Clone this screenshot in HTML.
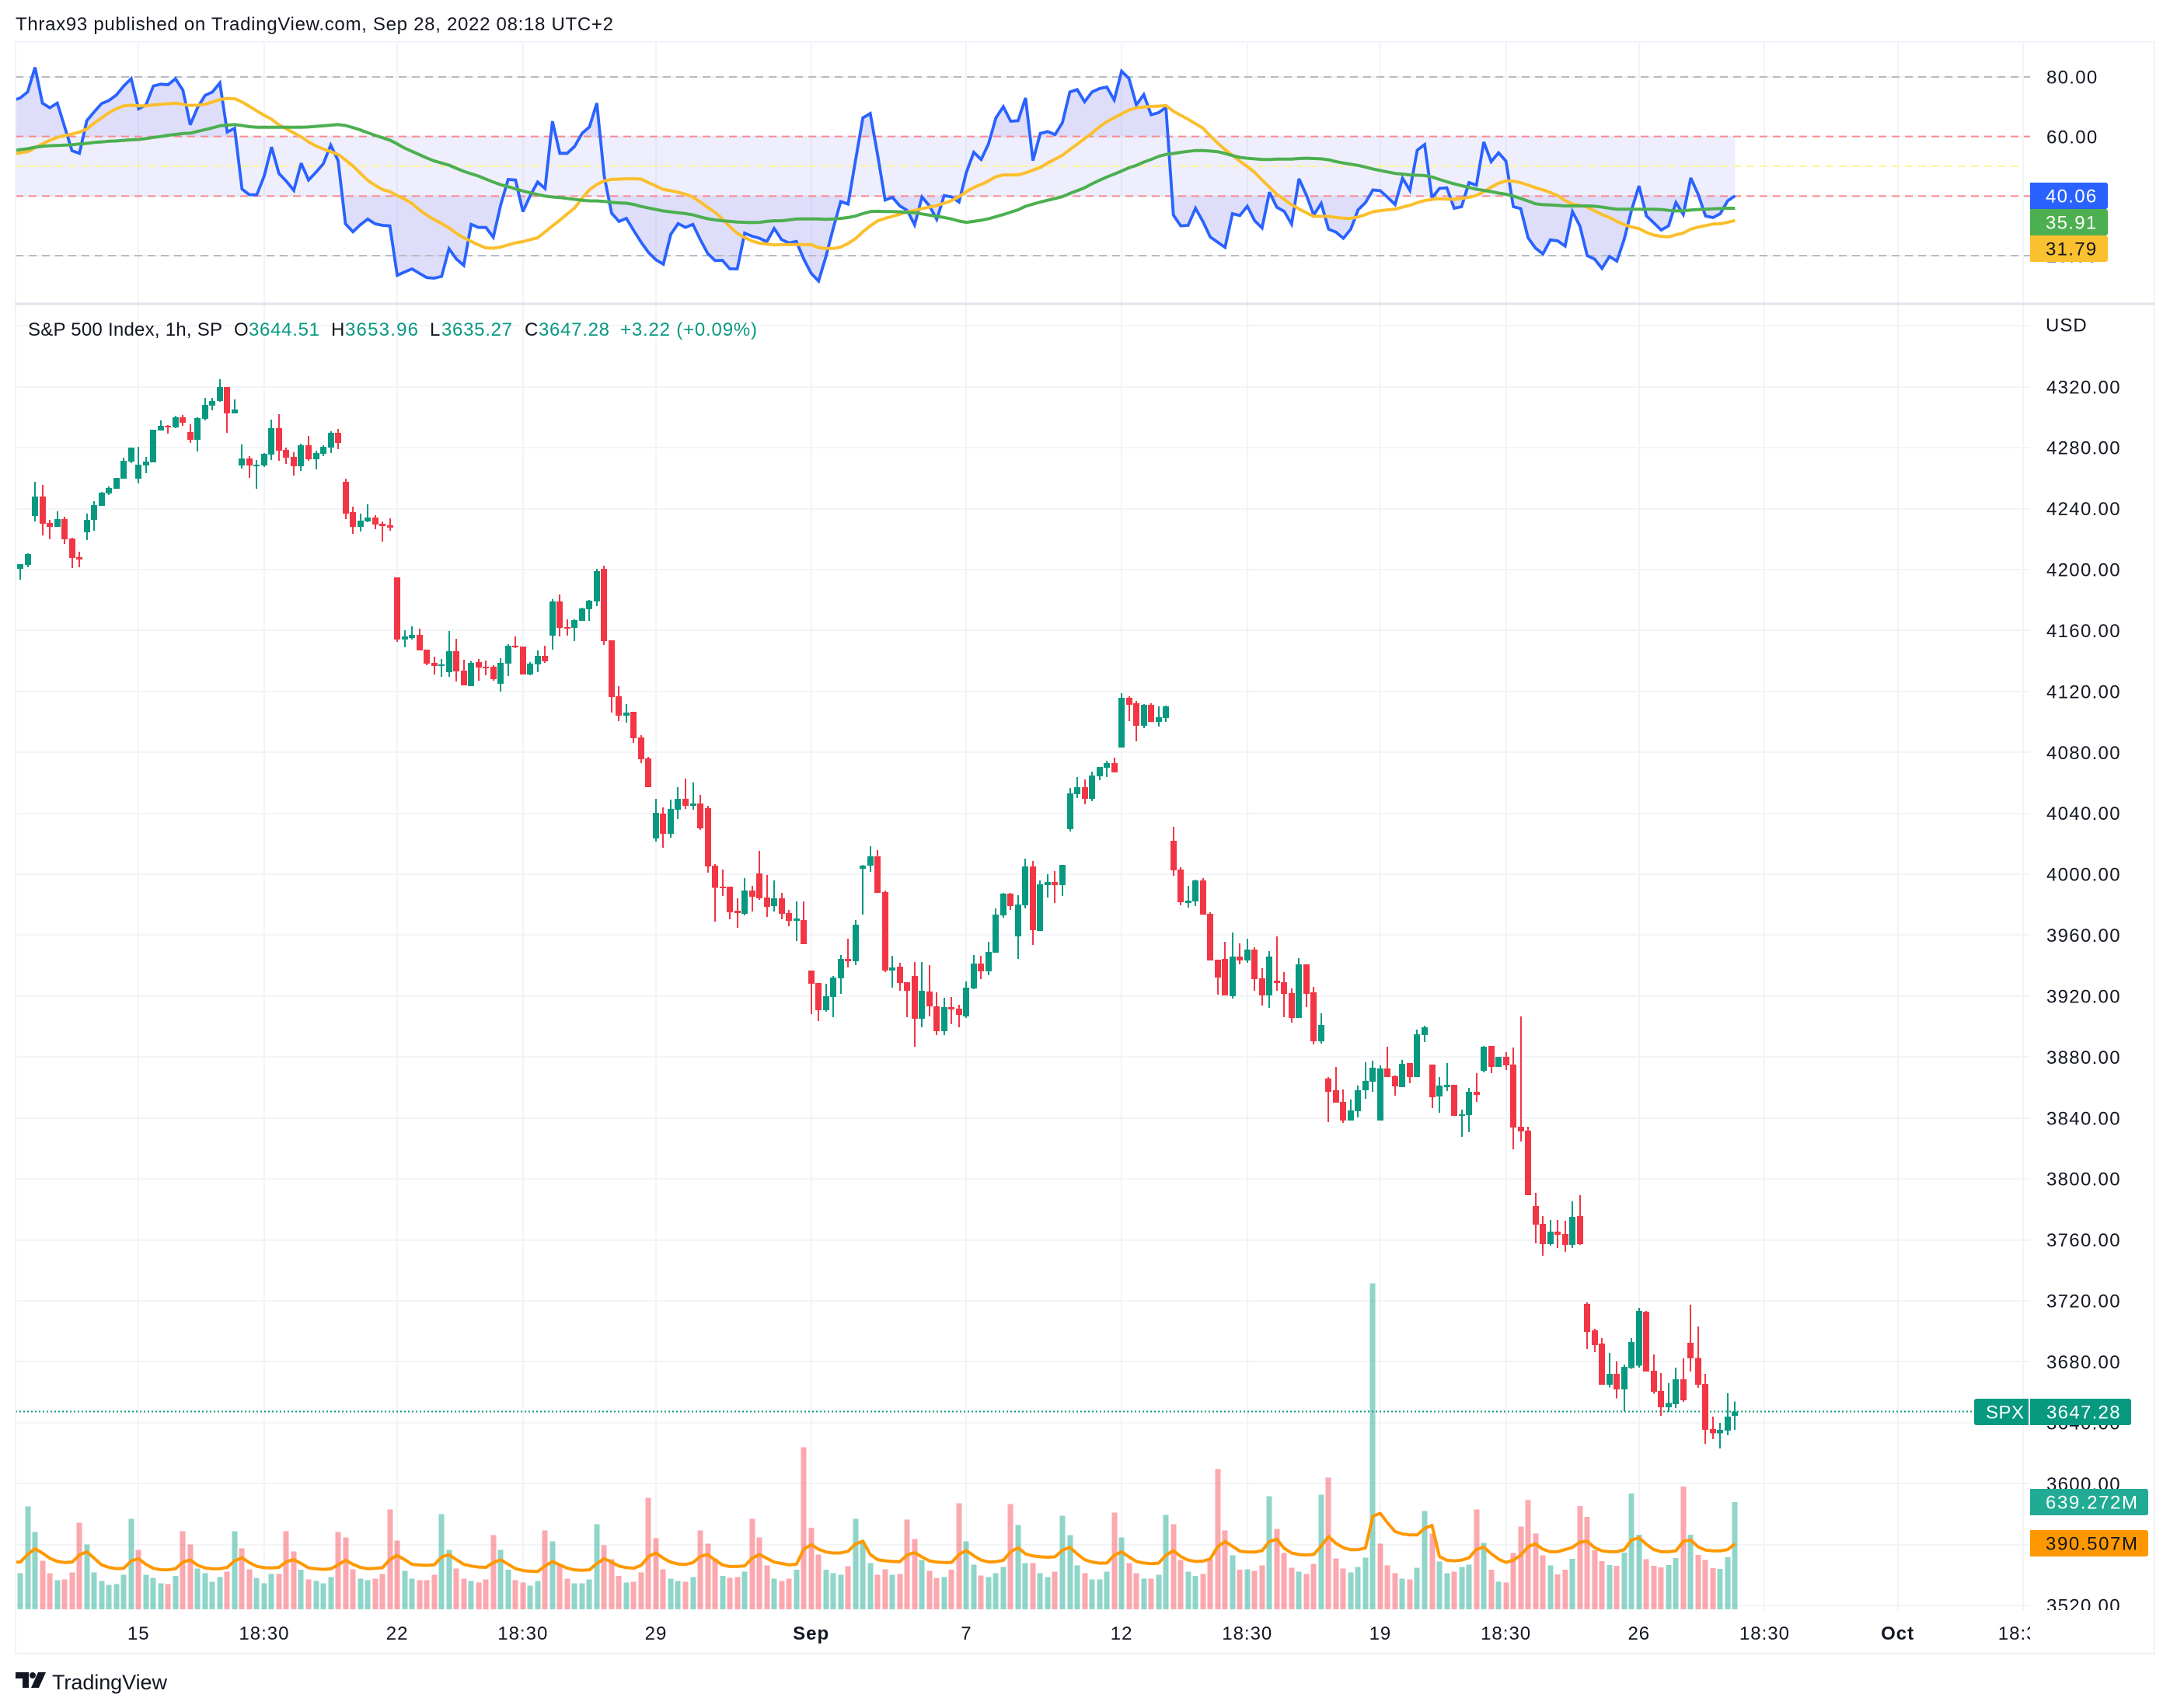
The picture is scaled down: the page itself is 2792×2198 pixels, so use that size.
<!DOCTYPE html>
<html lang="en">
<head>
<meta charset="utf-8">
<title>S&amp;P 500 Index chart</title>
<style>
html,body{margin:0;padding:0;background:#fff;}
svg{display:block;}
text{font-family:"Liberation Sans",sans-serif;fill:#131722;font-size:24px;}
</style>
</head>
<body>
<svg id="chart" xmlns="http://www.w3.org/2000/svg" width="2792" height="2198" viewBox="0 0 2792 2198">
  <defs>
    <clipPath id="rsi-clip"><rect x="20" y="55" width="2592" height="335"/></clipPath>
    <clipPath id="main-clip"><rect x="20" y="392" width="2592" height="1680"/></clipPath>
    <clipPath id="axis-clip"><rect x="2612" y="55" width="160" height="2017"/></clipPath>
    <clipPath id="time-clip"><rect x="20" y="2072" width="2592" height="55"/></clipPath>
    <clipPath id="above-clip"><rect id="above-rect" x="20" y="55" width="2592" height="120"/></clipPath>
    <clipPath id="below-clip"><rect id="below-rect" x="20" y="252" width="2592" height="138"/></clipPath>
  </defs>
  <rect x="0" y="0" width="2792" height="2198" fill="#ffffff"/>
  <text x="20" y="39" textLength="769" lengthAdjust="spacing">Thrax93 published on TradingView.com, Sep 28, 2022 08:18 UTC+2</text>
  <g id="grid"></g>
  <g id="rsi-pane" clip-path="url(#rsi-clip)"></g>
  <g id="main-pane" clip-path="url(#main-clip)"></g>
  <g id="price-axis" clip-path="url(#axis-clip)"></g>
  <g id="time-axis" clip-path="url(#time-clip)"></g>

  <rect x="19" y="53" width="2754" height="2" fill="#f0f3fa"/>
  <rect x="19" y="53" width="2" height="2076" fill="#f0f3fa"/>
  <rect x="2771" y="53" width="2" height="2076" fill="#f0f3fa"/>
  <rect x="19" y="2127" width="2754" height="2" fill="#f0f3fa"/>
  <rect x="19" y="389.5" width="2754" height="3" fill="#e0e3eb"/>

  <text x="2632" y="426.5" letter-spacing="1">USD</text>

  <g>
    <text x="36" y="432" textLength="250" lengthAdjust="spacing">S&amp;P 500 Index, 1h, SP</text>
    <text x="301" y="432">O</text>
    <text x="320" y="432" textLength="91" style="fill:#089981">3644.51</text>
    <text x="426" y="432">H</text>
    <text x="444" y="432" textLength="94" style="fill:#089981">3653.96</text>
    <text x="553" y="432">L</text>
    <text x="568" y="432" textLength="91" style="fill:#089981">3635.27</text>
    <text x="675" y="432">C</text>
    <text x="693" y="432" textLength="91" style="fill:#089981">3647.28</text>
    <text x="798" y="432" textLength="176" style="fill:#089981">+3.22 (+0.09%)</text>
  </g>

  <g>
    <path d="M2612 235H2709a3 3 0 0 1 3 3V266a3 3 0 0 1 -3 3H2612Z" fill="#2962ff"/>
    <text x="2632" y="260.5" letter-spacing="1.3" style="fill:#ffffff">40.06</text>
    <path d="M2612 269H2709a3 3 0 0 1 3 3V300a3 3 0 0 1 -3 3H2612Z" fill="#4caf50"/>
    <text x="2632" y="294.5" letter-spacing="1.3" style="fill:#ffffff">35.91</text>
    <path d="M2612 303H2709a3 3 0 0 1 3 3V334a3 3 0 0 1 -3 3H2612Z" fill="#fbc02d"/>
    <text x="2632" y="328.5" letter-spacing="1.3">31.79</text>
  </g>

  <g>
    <path d="M2610 1800H2543a3 3 0 0 0 -3 3V1831a3 3 0 0 0 3 3H2610Z" fill="#089981"/>
    <text x="2555" y="1825.5" letter-spacing="0.5" style="fill:#ffffff">SPX</text>
    <path d="M2612 1800H2739a3 3 0 0 1 3 3V1831a3 3 0 0 1 -3 3H2612Z" fill="#089981"/>
    <text x="2633" y="1825.5" letter-spacing="1.3" style="fill:#ffffff">3647.28</text>
  </g>
  <g>
    <path d="M2612 1916H2761a3 3 0 0 1 3 3V1947a3 3 0 0 1 -3 3H2612Z" fill="#22ab94"/>
    <text x="2632" y="1941.5" textLength="118" style="fill:#ffffff">639.272M</text>
    <path d="M2612 1969H2761a3 3 0 0 1 3 3V2000a3 3 0 0 1 -3 3H2612Z" fill="#ff9800"/>
    <text x="2632" y="1994.5" textLength="118">390.507M</text>
  </g>

  <g>
    <path d="M20 2152H37V2172H29V2160H20Z" fill="#131722"/>
    <circle cx="42" cy="2156" r="4" fill="#131722"/>
    <path d="M49 2152H59L50 2172H40Z" fill="#131722"/>
    <text x="67" y="2174" textLength="148" lengthAdjust="spacing" style="font-size:27px">TradingView</text>
  </g>
</svg>

<script>
const opens = [
4200.5,4203,4235.2,4247.9,4230.6,4228,4233.1,4220.4,4208.1,4224.4,
4232.6,4241.8,4250,4253,4259.6,4270.9,4259.6,4268.3,4270.3,4291.3,
4294.3,4293.3,4299.9,4290.2,4285.1,4298.9,4307.6,4310.6,4319.8,4302.5,
4268.3,4272.9,4268.3,4268.3,4275.4,4292.8,4278.5,4273.9,4267.8,4281.6,
4272.4,4276,4280,4289.7,4257.6,4237.7,4228,4231.6,4234.1,4230,
4229,4194.9,4154.1,4155.1,4157.1,4147.4,4138.8,4136.7,4132.6,4146.4,
4133.6,4123.5,4139.3,4136.2,4136.2,4125,4138.2,4150,4149.5,4131.1,
4137.7,4143.3,4156.6,4179,4162.2,4161.7,4166.3,4174,4179,4200.5,
4153.5,4116.8,4104.1,4106.6,4089.8,4076,4023.5,4039.8,4026.5,4042.4,
4049.5,4044.9,4046.4,4043.4,4005.6,3991.9,3991.9,3976,3974,3989.3,
4000.5,3984.7,3979.1,3984.2,3974.5,3969.4,3970,3936.8,3928.6,3910.8,
3919.4,3931.7,3944.4,3942.9,4003.6,4005.6,4011.8,3988.3,3936.8,3939.3,
3929.1,3933.2,3905.2,3923,3913.3,3897,3912.8,3911.8,3906.7,3925,
3941.4,3936.3,3948.5,3973,3987.3,3959.2,3979.6,4005.1,3962.8,3992.9,
3994.9,3992.9,4029.6,4052.6,4057.2,4049.5,4064.3,4069.9,4073,4083.2,
4115.8,4112.2,4097.5,4111.2,4100,4102.6,4022,4003.1,3981.2,3982.2,
3996,3974,3943.9,3944.4,3920,3946,3943.4,3950.6,3931.7,3920.5,
3930.2,3929.1,3922,3905.7,3940.9,3922.5,3890.4,3865.9,3858.2,3850.6,
3838.3,3844.5,3858.2,3863.9,3838.3,3872.5,3867.4,3860.3,3876.1,3866.9,
3894.5,3875.1,3854.2,3860.3,3861.8,3841.4,3841.9,3857.2,3871,3887.3,
3873.5,3880.2,3875.1,3834.3,3831.7,3782.2,3770.4,3757.2,3765.3,3763.8,
3756.7,3775.6,3718,3700.6,3691.9,3664.8,3672,3661.8,3675.9,3677.5,
3712.8,3674,3660.7,3650,3652.1,3668.4,3692.4,3682.6,3665.3,3635.7,
3632.9,3634.7,3644.51];
const highs = [
4203.5,4210.7,4257.6,4255.6,4232.6,4238.2,4234.7,4220.9,4211.7,4236.7,
4244.8,4251,4254.5,4260.1,4273.4,4280,4280.5,4273.9,4291.8,4297.9,
4294.8,4300.9,4301.5,4295.3,4299.9,4312.7,4312.7,4324.9,4319.8,4311.7,
4282.1,4274.4,4271.9,4276.5,4298.4,4302,4280,4277,4282.6,4287.7,
4278,4281.6,4290.7,4292.3,4259.6,4241.3,4236.7,4242.8,4235.7,4231.6,
4233.6,4194.9,4160.2,4162.7,4161.2,4147.4,4142.8,4141.3,4159.7,4154.6,
4140.8,4139.8,4141.3,4140.3,4137.2,4141.8,4151,4156.1,4149.5,4139.3,
4146.9,4150,4180.6,4183.6,4167.3,4167.3,4175,4180.1,4200.5,4202.5,
4153.5,4123.5,4111.7,4106.6,4091.3,4077,4049.5,4043.9,4049,4057.1,
4062.8,4060.2,4052,4044.9,4006.6,4003,3991.9,3984.2,3997.5,3992.4,
4015.3,3999.5,3995.9,3987.8,3976.5,3982.2,3982.2,3936.8,3928.6,3928.1,
3933.2,3947,3957.7,3969.9,4006.1,4018.4,4015.8,3989.3,3946.5,3941.9,
3929.1,3942.4,3942.4,3940.3,3922.5,3918.9,3919.4,3914.3,3929.6,3947,
3946.5,3955.6,3977.6,3987.8,3987.8,3986.3,4010.2,4008.7,3996,4000,
4002,4006.1,4056.6,4063.8,4062.3,4067.4,4070.4,4074.5,4076.5,4118.9,
4116.8,4113.8,4111.7,4112.2,4110.2,4110.7,4031.1,4004.6,3992.4,3996.5,
3997.5,3975,3943.9,3955.7,3961.8,3954.6,3957.7,3952.1,3938.3,3949.5,
3959.2,3935.8,3925.1,3945,3940.9,3926.1,3908.7,3866.9,3873.5,3858.7,
3852.1,3861.3,3876.6,3877.6,3874.6,3886.8,3867.9,3878.1,3876.1,3898,
3900.6,3875.1,3866.9,3876.1,3861.8,3845.5,3859.8,3869.5,3887.3,3887.3,
3880.2,3883.2,3886.3,3906.7,3834.3,3790.8,3775.5,3773,3773,3772.5,
3785.2,3789.3,3719,3701.5,3695.5,3685.8,3680.1,3678.2,3695.5,3715.4,
3713.3,3684.8,3672.5,3665.9,3676,3682.3,3717.4,3703.1,3671.9,3644,
3639.8,3659.3,3653.96];
const lows = [
4193.3,4201.5,4231.6,4222.4,4219.9,4228,4216.8,4201,4201.5,4219.3,
4225.5,4241.8,4248.9,4253,4259.6,4269.8,4256.6,4263.2,4270.3,4291.3,
4289.2,4292.8,4294.3,4283.1,4277.5,4297.9,4304.5,4310.1,4289.7,4302.5,
4266.3,4260.1,4253,4267.3,4271.9,4271.4,4269.3,4261.7,4264.7,4271.4,
4265.7,4274.4,4276.5,4279,4233.1,4223.4,4225,4231.1,4226.5,4218.3,
4225.5,4152.5,4149,4154.1,4146.9,4137.2,4131.1,4129.6,4129.6,4126.5,
4124,4123.5,4127,4130.6,4127,4119.9,4130.1,4148.4,4131.1,4130.6,
4132.6,4138.8,4147.4,4156.1,4156.6,4153,4166.3,4166.3,4176,4150.5,
4106.1,4100.5,4099.5,4086.2,4073,4057.1,4021.4,4017.4,4024,4036.2,
4042.9,4042.4,4029,4001,3968.9,3985.7,3970.4,3964.8,3973,3975.5,
3983.2,3971.9,3975.5,3970.4,3965.8,3956.2,3954.1,3908.2,3903.6,3909.7,
3906.2,3921.5,3938.8,3940.3,3973.5,4001.6,3987.8,3935.8,3925.6,3923.5,
3906.2,3886.8,3899.5,3906.7,3894.4,3894.4,3901.6,3899.5,3905.7,3924.5,
3931.2,3933.7,3948.5,3971.5,3976.6,3944.4,3977.6,3953.6,3962.8,3984.7,
3981.2,3985.7,4028.1,4050,4045.9,4048,4061.7,4063.8,4066.8,4083.2,
4100.5,4087.3,4095.9,4100,4097,4100,3999,3979.6,3978.1,3979.1,
3973.5,3943.4,3921,3920.5,3918.4,3940.9,3941.9,3923.5,3913.8,3912.3,
3923.5,3906.2,3902.6,3905.7,3912.8,3888.3,3888.8,3837.3,3850.1,3836.8,
3838.3,3840.4,3852.6,3857.2,3838.3,3866.9,3854.7,3860.3,3862.9,3866.9,
3889.9,3846.5,3843.4,3857.7,3841.4,3827.6,3830.7,3850.6,3870,3869.5,
3873.5,3871.5,3819.5,3824.6,3789.4,3757.7,3749.5,3756.2,3754.6,3752.1,
3754.6,3756.7,3688.3,3686.2,3664.8,3663,3655.9,3647.5,3675.3,3676,
3673.5,3658.9,3644.5,3647,3649.5,3653.6,3673.5,3662.8,3626.1,3629.2,
3623.1,3631.6,3635.27];
const closes = [
4203.5,4210.2,4247.9,4230,4228,4233.1,4219.9,4207.6,4206.6,4232.6,
4242.3,4250.4,4253.5,4260.1,4271.4,4280,4268.8,4270.9,4291.8,4294.3,
4293.3,4299.9,4296.4,4285.1,4299.4,4308.1,4310.6,4319.8,4302.5,4305,
4272.9,4268.3,4268.8,4275.9,4292.8,4278,4273.4,4267.8,4281.6,4272.4,
4276.5,4280.5,4289.7,4283.1,4236.7,4228,4232.1,4234.1,4229.5,4228.5,
4227.5,4154.1,4156.1,4157.1,4146.9,4138.2,4136.7,4137.7,4146.4,4133.1,
4124,4138.8,4135.7,4135.6,4128,4138.8,4150,4149,4131.1,4138.2,
4143.3,4139.8,4179,4161.7,4161.6,4166.8,4174.5,4179.6,4199,4153,
4116.3,4104.1,4106.1,4089.3,4075.5,4057.1,4040.3,4026.5,4042.9,4049.5,
4044.9,4046.4,4030.1,4005.1,3991.2,3991.3,3975,3974.5,3989.3,3985.2,
3984.2,3978.6,3984.2,3974,3969.4,3971,3954.1,3928.1,3910.8,3919.9,
3932.2,3944.4,3942.9,3966.9,4005.6,4011.8,3987.8,3936.8,3938.8,3928.6,
3923.5,3905.2,3923.5,3913.3,3897,3912.8,3911.3,3907.7,3925.5,3941.4,
3936.3,3949,3973.5,3987.3,3979.1,3980.1,4005.1,3963.3,3993.4,3994.9,
3992.9,4006.1,4053.1,4057.2,4049.5,4064.8,4070.4,4073,4066.8,4115.8,
4111.2,4097.5,4111.2,4100,4103,4110.2,4002.6,3981.7,3982.7,3996,
3973.5,3943.4,3932.2,3920.5,3946,3943.4,3950.6,3931.2,3920.5,3946,
3928.6,3921.5,3905.7,3940.9,3921.5,3890.4,3901.1,3857.2,3850.1,3838.3,
3845,3858.2,3864.4,3873,3872.5,3866.9,3860.8,3875.6,3866.9,3895,
3899.6,3853.6,3861.3,3861.8,3841.4,3842.4,3857.2,3855.2,3886.8,3873.5,
3880.2,3874.6,3833.8,3831.2,3789.4,3769.9,3757.2,3765.3,3763.3,3756.7,
3775,3757.2,3699.6,3690.8,3664.8,3672,3661.8,3676.6,3693,3713.3,
3673.5,3660.3,3650,3653,3668.4,3654.6,3682.3,3664.8,3635.2,3632.9,
3635.2,3644,3647.28];
const volumes = [
216,614,461,290,216,174,179,221,517,387,
221,170,147,151,207,540,355,207,188,156,
151,198,466,387,244,216,165,193,225,466,
364,239,188,156,211,211,466,346,235,179,
170,156,193,461,429,239,184,174,184,211,
596,410,230,184,174,174,207,568,355,244,
184,170,160,179,443,355,235,174,160,142,
170,471,406,262,184,156,156,179,508,383,
299,198,160,165,221,665,424,239,184,170,
165,193,471,392,304,198,188,193,225,540,
429,262,184,170,184,235,966,485,327,235,
216,207,258,540,404,276,207,239,207,211,
535,420,295,230,188,193,235,633,406,267,
202,193,216,253,628,503,276,276,216,193,
225,559,443,262,216,179,179,225,577,429,
276,216,184,184,207,563,508,295,225,198,
211,296,836,471,322,235,239,230,262,674,
480,336,248,225,211,272,684,785,304,244,
221,253,309,1943,392,262,216,184,179,248,
586,451,285,216,225,253,267,596,397,235,
165,160,336,494,651,452,322,262,209,236,
301,616,552,353,288,264,260,338,691,445,
298,260,251,264,306,731,445,325,293,246,
241,311,639.272];
const volumeMa = [
281,327,361,335,304,285,279,281,324,343,
304,265,250,242,244,289,301,268,244,236,
235,242,281,295,262,247,241,242,250,289,
307,278,256,248,247,250,284,296,273,247,
241,238,241,265,293,268,250,242,244,248,
296,322,296,268,264,262,265,312,326,296,
268,258,252,250,278,295,268,242,231,227,
225,258,285,265,245,235,233,235,273,302,
281,258,248,245,262,315,336,304,281,270,
267,278,315,327,293,265,255,255,259,304,
327,304,281,273,265,268,358,386,358,341,
335,336,346,389,406,327,296,289,285,284,
324,338,312,289,281,279,279,327,350,319,
293,282,284,292,343,367,330,318,313,310,
313,352,370,330,296,282,275,276,322,343,
312,285,276,272,275,322,350,315,293,285,
287,301,373,404,376,347,341,341,349,404,
418,363,336,326,324,327,378,434,393,367,
355,355,366,555,572,515,463,449,443,443,
483,500,315,292,289,293,307,358,370,332,
299,279,293,322,373,390,358,343,343,356,
369,400,405,367,348,343,343,356,413,426,
388,356,343,343,348,405,413,372,353,348,
348,356,390.507];
const rsiValues = [
72.96,74.96,83.22,71.22,69.65,71.22,63.22,55.22,54.35,65.31,
68.26,71.05,72.09,73.92,76.96,79.39,69.31,70.61,76.96,77.57,
77.39,79.39,75.57,63.92,69.74,73.83,74.96,78,61.48,62.78,
42.35,40.44,40.44,46.7,56.44,47.57,44.96,41.91,51.05,45.39,
48,50.87,57.13,51.91,30.7,28,30.35,32.26,30.7,30.17,
30,13.39,14.52,15.57,14.09,12.61,12.43,13.04,22.35,18.87,
16.7,30.52,29.48,29.48,26.18,37.13,45.57,45.39,34.78,40.18,
44.7,42.52,65.13,54.35,54.35,56.7,61.05,63.22,71.22,46.7,
34.26,31.48,32.52,28.43,24.52,21.04,18.61,17.13,27.13,30.78,
29.48,30.52,25.39,20.78,18.35,18.44,15.57,15.57,27.57,26.52,
25.83,24.7,29.13,25.39,24.26,24.78,18.86,14.08,11.47,19.73,
29.3,38.17,37.3,51.91,66.26,67.74,53.65,38.69,39.56,36.69,
35.21,30.34,39.73,36.69,32.17,40.17,39.73,38,48,54.69,
52.26,57.56,66.26,70,65.13,65.3,72.95,51.91,61.04,61.65,
60.61,64.69,74.95,75.74,71.65,74.95,76.08,76.61,72.26,81.91,
79.48,70.61,74.08,67.3,68,69.74,33.65,30,30.17,35.91,
31.47,26.26,24.52,22.78,34.08,33.47,36.6,31.73,29.3,41.3,
36.26,34.87,30.6,45.82,40.34,33.65,37.56,28.86,27.91,25.82,
28.86,35.39,37.82,42.08,41.82,39.56,37.13,46,41.91,55.39,
57.3,39.39,42.6,42.78,35.91,36.43,44.52,43.65,58.17,51.56,
54.52,51.73,36.43,35.82,26,22.52,20.6,25.3,24.95,23.21,
34.78,30,19.99,18.86,15.73,19.73,18.17,25.56,35.39,43.39,
33.39,31.04,28.6,30,37.82,33.82,46.08,40.6,33.3,32.78,
34.08,38.43,40.06];
const rsiFastMa = [
54.5,54.9,56.2,57.5,58.7,59.7,60.3,60.8,61.5,62.5,
64.5,66.2,68,69.3,70.3,70.5,70.3,70.3,70.6,70.8,
71,71.2,70.8,70.4,70.5,70.8,71.6,72.4,72.8,72.7,
71.6,70.1,68.6,67.1,65.8,63.9,62.6,61.2,59.9,58.2,
56.8,55.8,54.9,54,52.1,50.1,47.7,45.3,43.6,42.2,
41.5,40.1,39,37.5,35.4,33.6,32.1,30.8,29.3,27.5,
26,24.8,23.6,22.6,22.5,22.9,23.6,24.3,24.7,25.4,
26,28,30,31.9,34,36,39.3,42.1,43.9,45.1,
45.6,45.7,45.8,45.8,45.7,44.5,43.4,42.2,41.8,41.3,
40.6,39.7,38,36.2,34.5,32.3,29.7,27.5,26.1,24.9,
24.2,23.9,23.6,23.7,23.7,23.7,23.7,23.7,22.7,22.4,
22.4,22.9,24.1,25.7,28,30,31.7,32.5,33.2,33.9,
34.7,35.2,35.8,36.3,36.8,37.6,38.5,39.8,41.5,42.9,
43.9,45.1,46.5,47.1,47.1,47.1,47.8,48.7,49.6,51.1,
52.4,53.7,55.6,57.4,59.3,61.2,63.2,65,66.3,67.6,
68.9,69.6,69.9,70.1,70.2,70.4,68.5,67.1,65.8,64.3,
62.8,60.2,57.8,55.6,53.7,51.7,49.9,48,45.4,43,
40.6,38.9,37.1,35.7,34.4,33.2,33.2,33.2,32.8,32.6,
32.5,33,33.8,34.7,35.1,35.4,35.6,36.3,36.9,37.8,
38.5,38.9,39.1,39,38.9,39.2,39.6,40.2,41.5,43,
44.3,45.1,45,44.5,43.7,42.8,42.1,41.2,40.2,38.5,
37.3,36.9,36.3,35,33.8,32.8,31.5,30.4,29.6,29.1,
27.8,26.9,26.5,26.3,27,27.6,28.9,29.6,30.1,30.6,
30.7,31.2,31.79];
const rsiSlowMa = [
55.6,55.9,56.4,56.7,56.9,57,57.1,57.2,57.5,57.7,
58,58.2,58.4,58.5,58.7,58.9,59,59.3,59.7,60,
60.4,60.7,61,61.1,61.7,62.3,62.9,63.6,63.8,64,
63.7,63.3,63.1,63.1,63.1,63.1,63.1,63.1,63.1,63.2,
63.4,63.6,63.8,64,63.7,63,62.2,61.3,60.4,59.6,
58.8,57.5,56.1,55,53.9,52.8,51.8,51.1,50.4,49.3,
48.3,47.5,46.7,45.7,44.7,43.8,43.2,42.4,41.7,41.1,
40.5,40,39.7,39.5,39.2,38.9,38.6,38.4,38.4,38.2,
37.9,37.7,37.6,37.2,36.5,36,35.5,35,34.7,34.4,
34.1,33.7,33,32.4,32,31.7,31.5,31.3,31.2,31.1,
31.2,31.5,31.7,31.7,32,32.3,32.3,32.3,32.3,32.2,
32.3,32.5,32.8,33.3,34.1,34.8,34.9,34.8,34.8,34.7,
34.5,34.4,34,33.6,33.2,32.8,32.3,31.6,31.2,31.5,
31.9,32.4,33.1,33.8,34.6,35.4,36.6,37.3,38,38.6,
39.2,39.8,40.9,41.8,42.8,44.1,45.3,46.4,47.4,48.4,
49.5,50.3,51.4,52.3,53.3,54,54.3,54.7,55,55.3,
55.3,55.1,54.9,54.3,53.6,53,52.7,52.5,52.3,52.3,
52.4,52.4,52.4,52.6,52.7,52.6,52.5,52.2,51.6,51.1,
50.7,50.3,49.7,49.1,48.6,48.1,47.6,47.4,47.1,47,
46.9,46.4,45.6,44.8,44.1,43.5,42.9,42.3,41.9,41.5,
41,40.6,40,39.2,38.3,37.4,37.1,37,36.9,36.7,
36.7,36.7,36.7,36.6,36.3,35.9,35.6,35.6,35.6,35.6,
35.6,35.6,35.5,35.2,35,35.1,35.3,35.5,35.6,35.7,
35.8,35.9,35.91];
const priorRsi = 72.1;
const priorRsiFastMa = 54;
const priorRsiSlowMa = 55.2;
const priorVolumeMa = 281;
const lastPrice = 3647.28;
const priceTicks = [4360,4320,4280,4240,4200,4160,4120,4080,4040,4000,3960,3920,3880,3840,3800,3760,3720,3680,3640,3600,3560,3520];
const rsiTicks = [80,60,40,20];
const timeTickBars = [16,33,51,68,86,107,128,149,166,184,201,219,236,254,271];
const timeTickLabels = ['15','18:30','22','18:30','29','Sep','7','12','18:30','19','18:30','26','18:30','Oct','18:30'];

const NS = 'http://www.w3.org/2000/svg';
const GREEN = '#089981';
const RED = '#f23645';
const xAxis = i => 26.1 + 9.51 * i;
const yPrice = p => 497.7 + (4320 - p) * 1.9604;
const yRsi = v => 99 + (80 - v) * 3.8333;
const yVolume = m => 2071 - m / 4.63;

const gridLayer = document.getElementById('grid');
const rsiLayer = document.getElementById('rsi-pane');
const mainLayer = document.getElementById('main-pane');
const priceAxisLayer = document.getElementById('price-axis');
const timeAxisLayer = document.getElementById('time-axis');

function make(tag, attrs, parent) {
  const el = document.createElementNS(NS, tag);
  for (const k in attrs) el.setAttribute(k, attrs[k]);
  parent.appendChild(el);
  return el;
}
function linePath(values, yFn, prior) {
  let d = 'M' + xAxis(-1).toFixed(1) + ' ' + yFn(prior).toFixed(1);
  values.forEach((v, i) => { d += 'L' + xAxis(i).toFixed(1) + ' ' + yFn(v).toFixed(1); });
  return d;
}

/* grid */
timeTickBars.forEach((bar) => {
  const el = make('rect', {x: Math.round(xAxis(bar)) - 1, y: 55, width: 2, height: 2017, fill: '#f3f4f7'}, gridLayer);
  
  
});
priceTicks.forEach((p) => {
  const el = make('rect', {x: 20, y: Math.round(yPrice(p)) - 1, width: 2592, height: 2, fill: '#f3f4f7'}, gridLayer);
  
  
});
rsiTicks.forEach((v) => {
  const el = make('rect', {x: 20, y: Math.round(yRsi(v)) - 1, width: 2592, height: 2, fill: '#f3f4f7'}, gridLayer);
  
  
});

/* RSI pane */
const y60 = yRsi(60), y40 = yRsi(40);
document.getElementById('above-rect').setAttribute('height', y60 - 55);
document.getElementById('below-rect').setAttribute('y', y40);
document.getElementById('below-rect').setAttribute('height', 390 - y40);

const band = make('rect', {x: 20, y: y60, width: xAxis(opens.length - 1) - 20, height: y40 - y60, fill: 'rgba(123,123,235,.13)'}, rsiLayer);



const lastX = xAxis(rsiValues.length - 1).toFixed(1);
const firstX = xAxis(-1).toFixed(1);
const rsiLine = linePath(rsiValues, yRsi, priorRsi);
const fillAbove = make('path', {d: rsiLine + 'L' + lastX + ' ' + y60 + 'L' + firstX + ' ' + y60 + 'Z', fill: 'rgba(123,123,235,.25)', 'clip-path': 'url(#above-clip)'}, rsiLayer);


const fillBelow = make('path', {d: rsiLine + 'L' + lastX + ' ' + y40 + 'L' + firstX + ' ' + y40 + 'Z', fill: 'rgba(123,123,235,.25)', 'clip-path': 'url(#below-clip)'}, rsiLayer);



const levelValues = [80, 60, 50, 40, 20];
const levelColors = ['#b8bac2', '#f98b90', '#fff39a', '#f98b90', '#b8bac2'];
levelValues.forEach((v, k) => {
  const el = make('line', {x1: 20, x2: v === 50 ? 2603 : 2612, y1: yRsi(v), y2: yRsi(v), stroke: levelColors[k], 'stroke-width': 2, 'stroke-dasharray': '10 7'}, rsiLayer);
  
  
});

const rsiPath = make('path', {d: rsiLine, fill: 'none', stroke: '#2962ff', 'stroke-width': 3.8, 'stroke-linejoin': 'miter', 'stroke-miterlimit': 3}, rsiLayer);


const fastPath = make('path', {d: linePath(rsiFastMa, yRsi, priorRsiFastMa), fill: 'none', stroke: '#fbbf2d', 'stroke-width': 4, 'stroke-linejoin': 'round'}, rsiLayer);


const slowPath = make('path', {d: linePath(rsiSlowMa, yRsi, priorRsiSlowMa), fill: 'none', stroke: '#4caf50', 'stroke-width': 4, 'stroke-linejoin': 'round'}, rsiLayer);



/* volume */
volumes.forEach((v, i) => {
  const up = i === 0 || closes[i] >= closes[i - 1];
  const top = yVolume(v);
  const el = make('rect', {x: Math.round(xAxis(i)) - 3.5, y: top, width: 7, height: 2071 - top, fill: up ? 'rgba(34,171,148,.5)' : 'rgba(247,82,95,.5)', 'shape-rendering': 'crispEdges'}, mainLayer);
  
  
});
const volMaPath = make('path', {d: linePath(volumeMa, yVolume, priorVolumeMa), fill: 'none', stroke: '#ff9800', 'stroke-width': 4, 'stroke-linejoin': 'round'}, mainLayer);



/* last price line */
const lastLine = make('line', {x1: 20, x2: 2540, y1: yPrice(lastPrice), y2: yPrice(lastPrice), stroke: GREEN, 'stroke-width': 2, 'stroke-dasharray': '2 3'}, mainLayer);



/* candles */
opens.forEach((o, i) => {
  const c = closes[i];
  const color = c >= o ? GREEN : RED;
  const cx = Math.round(xAxis(i));
  const wick = make('rect', {x: cx - 1, y: yPrice(highs[i]), width: 2, height: Math.max(1, yPrice(lows[i]) - yPrice(highs[i])), fill: color, 'shape-rendering': 'crispEdges'}, mainLayer);
  
  
  const top = yPrice(Math.max(o, c));
  const body = make('rect', {x: cx - 4, y: top, width: 8, height: Math.max(2, yPrice(Math.min(o, c)) - top), fill: color, 'shape-rendering': 'crispEdges'}, mainLayer);
  
  
});

/* price axis */
priceTicks.slice(1).forEach((p) => {
  const t = make('text', {x: 2633, y: yPrice(p) + 8.6, 'letter-spacing': 1.3}, priceAxisLayer);
  
  
  t.textContent = p.toFixed(2);
});
rsiTicks.forEach((v) => {
  const t = make('text', {x: 2633, y: yRsi(v) + 8.6, 'letter-spacing': 1.3}, priceAxisLayer);
  
  
  t.textContent = v.toFixed(2);
});

/* time axis */
timeTickBars.forEach((bar, k) => {
  const label = timeTickLabels[k];
  const bold = label === 'Sep' || label === 'Oct';
  const t = make('text', {x: xAxis(bar), y: 2110, 'text-anchor': 'middle', 'letter-spacing': 1, 'font-weight': bold ? 700 : 400}, timeAxisLayer);
  
  
  t.textContent = label;
});
</script>
</body>
</html>
